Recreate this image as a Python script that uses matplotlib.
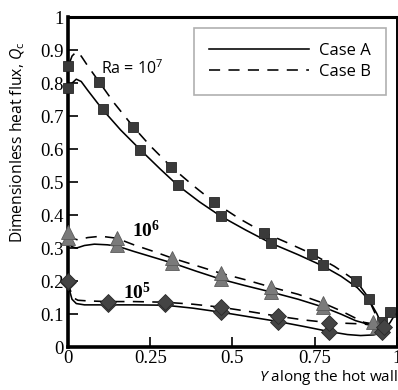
import matplotlib
matplotlib.use("Agg")
import matplotlib.pyplot as plt
from matplotlib.lines import Line2D

plt.rcParams['mathtext.fontset'] = 'custom'
plt.rcParams['mathtext.rm'] = 'Open Sans'
plt.rcParams['mathtext.it'] = 'Open Sans:italic'
plt.rcParams['mathtext.bf'] = 'Liberation Serif:bold'
plt.rcParams['lines.scale_dashes'] = False

# --- Ra = 1e7 ---------------------------------------------------------
ra7_a_x = [0.0, 0.012, 0.025, 0.04, 0.06, 0.105, 0.16, 0.22, 0.28, 0.334, 0.40, 0.464,
           0.54, 0.617, 0.70, 0.777, 0.83, 0.88, 0.916, 0.94, 0.955, 0.967, 0.98, 0.995]
ra7_a_y = [0.79, 0.80, 0.812, 0.805, 0.778, 0.72, 0.658, 0.598, 0.54, 0.49, 0.44, 0.397,
           0.355, 0.315, 0.28, 0.245, 0.215, 0.18, 0.142, 0.10, 0.065, 0.058, 0.075, 0.10]
ra7_b_x = [0.004, 0.012, 0.025, 0.04, 0.06, 0.093, 0.14, 0.199, 0.25, 0.313, 0.38, 0.443,
           0.52, 0.596, 0.67, 0.741, 0.81, 0.877, 0.91, 0.935, 0.95, 0.965]
ra7_b_y = [0.86, 0.882, 0.895, 0.882, 0.852, 0.806, 0.74, 0.667, 0.61, 0.547, 0.49, 0.44,
           0.39, 0.347, 0.315, 0.283, 0.245, 0.20, 0.155, 0.10, 0.072, 0.06]
ra7_mk_a_x = [0.0, 0.105, 0.22, 0.334, 0.464, 0.617, 0.777, 0.916, 0.98]
ra7_mk_a_y = [0.785, 0.721, 0.598, 0.491, 0.397, 0.315, 0.248, 0.145, 0.105]
ra7_mk_b_x = [0.0, 0.093, 0.199, 0.313, 0.443, 0.596, 0.741, 0.877, 0.955]
ra7_mk_b_y = [0.852, 0.803, 0.667, 0.545, 0.439, 0.345, 0.282, 0.20, 0.075]

# --- Ra = 1e6 ---------------------------------------------------------
ra6_a_x = [0.0, 0.01, 0.025, 0.05, 0.08, 0.12, 0.15, 0.20, 0.26, 0.32, 0.39, 0.464,
           0.54, 0.617, 0.70, 0.777, 0.83, 0.875, 0.91, 0.94, 0.96]
ra6_a_y = [0.325, 0.305, 0.30, 0.308, 0.312, 0.31, 0.306, 0.29, 0.272, 0.254, 0.23, 0.206,
           0.186, 0.167, 0.145, 0.121, 0.10, 0.08, 0.07, 0.065, 0.07]
ra6_b_x = [0.0, 0.01, 0.03, 0.06, 0.10, 0.148, 0.20, 0.26, 0.316, 0.39, 0.464, 0.54,
           0.617, 0.70, 0.777, 0.83, 0.87, 0.90, 0.93]
ra6_b_y = [0.34, 0.33, 0.325, 0.332, 0.336, 0.33, 0.31, 0.29, 0.27, 0.247, 0.224, 0.204,
           0.182, 0.16, 0.133, 0.11, 0.09, 0.075, 0.07]
ra6_mk_a_x = [0.0, 0.148, 0.316, 0.464, 0.617, 0.777, 0.94]
ra6_mk_a_y = [0.33, 0.309, 0.254, 0.206, 0.167, 0.121, 0.06]
ra6_mk_b_x = [0.0, 0.148, 0.316, 0.464, 0.617, 0.777, 0.928]
ra6_mk_b_y = [0.35, 0.33, 0.27, 0.224, 0.182, 0.133, 0.076]

# --- Ra = 1e5 ---------------------------------------------------------
ra5_a_x = [0.0, 0.005, 0.012, 0.025, 0.05, 0.12, 0.20, 0.295, 0.38, 0.464, 0.55, 0.636,
           0.72, 0.795, 0.85, 0.89, 0.93, 0.96, 0.98]
ra5_a_y = [0.20, 0.17, 0.145, 0.132, 0.128, 0.128, 0.128, 0.127, 0.118, 0.106, 0.092, 0.078,
           0.062, 0.047, 0.038, 0.035, 0.037, 0.045, 0.06]
ra5_b_x = [0.0, 0.006, 0.015, 0.03, 0.06, 0.12, 0.20, 0.295, 0.38, 0.464, 0.55, 0.636,
           0.72, 0.795, 0.85, 0.90, 0.93, 0.955]
ra5_b_y = [0.20, 0.175, 0.15, 0.142, 0.14, 0.138, 0.138, 0.136, 0.13, 0.121, 0.108, 0.094,
           0.082, 0.074, 0.072, 0.07, 0.065, 0.06]
ra5_mk_a_x = [0.0, 0.12, 0.295, 0.464, 0.64, 0.795, 0.955]
ra5_mk_a_y = [0.198, 0.13, 0.13, 0.106, 0.076, 0.046, 0.045]
ra5_mk_b_x = [0.0, 0.12, 0.295, 0.464, 0.64, 0.795, 0.96]
ra5_mk_b_y = [0.20, 0.136, 0.136, 0.121, 0.094, 0.073, 0.06]

x_ticks = [0, 0.25, 0.5, 0.75, 1]
x_tick_labels = ['0', '0.25', '0.5', '0.75', '1']
y_ticks = [0, 0.1, 0.2, 0.3, 0.4, 0.5, 0.6, 0.7, 0.8, 0.9, 1]
y_tick_labels = ['0', '0.1', '0.2', '0.3', '0.4', '0.5', '0.6', '0.7', '0.8', '0.9', '1']

fig = plt.figure(figsize=(3.98, 3.90), dpi=100)
ax = fig.add_axes([0.171, 0.110, 0.826, 0.846])
ax.set_xlim(0, 1)
ax.set_ylim(0, 1)

lw = 1.15
dash = (0, (8, 6))
for xs, ys in [(ra7_a_x, ra7_a_y), (ra6_a_x, ra6_a_y), (ra5_a_x, ra5_a_y)]:
    ax.plot(xs, ys, color='black', lw=lw, zorder=2, clip_on=False)
for xs, ys in [(ra7_b_x, ra7_b_y), (ra6_b_x, ra6_b_y), (ra5_b_x, ra5_b_y)]:
    ax.plot(xs, ys, color='black', lw=lw, ls=dash, zorder=2, clip_on=False)

sq = dict(marker='s', ms=7.8, mfc='#3a3a3a', mec='#262626', mew=0.6, ls='none', zorder=3, clip_on=False)
tri = dict(marker='^', ms=9.5, mfc='#7a7a7a', mec='#5a5a5a', mew=0.6, ls='none', zorder=3, clip_on=False)
dia = dict(marker='D', ms=8.0, mfc='#444444', mec='#2a2a2a', mew=0.6, ls='none', zorder=3, clip_on=False)
ax.plot(ra7_mk_a_x, ra7_mk_a_y, **sq)
ax.plot(ra7_mk_b_x, ra7_mk_b_y, **sq)
ax.plot(ra6_mk_a_x, ra6_mk_a_y, **tri)
ax.plot(ra6_mk_b_x, ra6_mk_b_y, **tri)
ax.plot(ra5_mk_a_x, ra5_mk_a_y, **dia)
ax.plot(ra5_mk_b_x, ra5_mk_b_y, **dia)

# Rayleigh-number labels
ax.text(0.10, 0.845, r'Ra = $\mathregular{10^{7}}$', fontsize=11.5, family='Open Sans',
        ha='left', va='center')
ax.text(0.195, 0.352, r'$\mathbf{10^{6}}$', fontsize=14, ha='left', va='center')
ax.text(0.168, 0.167, r'$\mathbf{10^{5}}$', fontsize=14, ha='left', va='center')

# axes styling
ax.set_xticks(x_ticks)
ax.set_xticklabels(x_tick_labels)
ax.set_yticks(y_ticks)
ax.set_yticklabels(y_tick_labels)
ax.tick_params(direction='in', length=7, width=1.2, labelsize=13.5, pad=3)
for lab in ax.get_xticklabels() + ax.get_yticklabels():
    lab.set_family('Liberation Serif')
ax.tick_params(axis='x', pad=2)
ax.spines['left'].set_linewidth(2.6)
ax.spines['bottom'].set_linewidth(2.6)
ax.spines['top'].set_linewidth(2.2)
ax.spines['right'].set_linewidth(1.4)

ax.set_ylabel(r'Dimensionless heat flux, $\mathit{Q}_{\mathrm{c}}$', fontsize=11.3,
              family='Open Sans')
ax.yaxis.set_label_coords(-0.125, 0.62)
fig.text(0.999, 0.031, r'$\mathit{Y}$ along the hot wall', fontsize=11, family='Open Sans',
         ha='right', va='center')

handles = [Line2D([], [], color='black', lw=lw),
           Line2D([], [], color='black', lw=lw, ls=dash)]
leg = ax.legend(handles, ['Case A', 'Case B'], loc='upper left',
                bbox_to_anchor=(0.383, 0.967), borderaxespad=0, fancybox=False,
                prop={'family': 'Open Sans', 'size': 12}, handlelength=6.0,
                handletextpad=0.6, labelspacing=0.3, borderpad=0.9, framealpha=1)
leg.get_frame().set_edgecolor('#b0b0b0')
leg.get_frame().set_linewidth(1.2)

fig.savefig('out.png', dpi=100)
